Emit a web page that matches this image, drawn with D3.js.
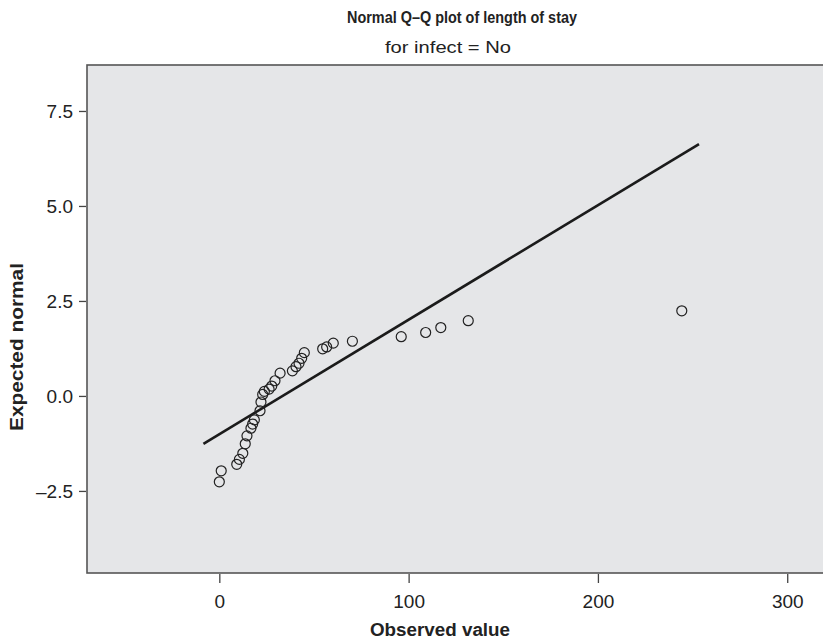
<!DOCTYPE html>
<html>
<head>
<meta charset="utf-8">
<script src="https://cdn.jsdelivr.net/npm/d3@7"></script>
<style>
	body { margin: 0; background: #fff; }
	text { font-family: "Liberation Sans", Arial, sans-serif; fill: #222; }
</style>
</head>
<body>
<div id="chart"></div>
<script>
// Observed length of stay and expected normal score for each case
const observed = [0, 1, 9.2, 10.6, 12.4, 13.7, 14.6, 16.7, 17.6, 18.5, 21.5, 22, 22.9, 23.8, 26.3, 27.7,
	29.4, 32.1, 38.6, 40.5, 42.1, 43.5, 44.9, 54.6, 56.7, 60.2, 70.3, 96.1, 109, 117, 131.5, 244.3]
const expected = [-2.26, -1.97, -1.80, -1.67, -1.51, -1.26, -1.05, -0.85, -0.74, -0.63, -0.39, -0.16, 0.04, 0.12, 0.18, 0.26,
	0.40, 0.60, 0.66, 0.77, 0.86, 0.99, 1.14, 1.24, 1.29, 1.39, 1.44, 1.56, 1.67, 1.80, 1.98, 2.24]

// Reference line end points
const lineX = [-8.4, 253.4]
const lineY = [-1.26, 6.63]

const xTicks = [0, 100, 200, 300]
const yTicks = [-2.5, 0, 2.5, 5, 7.5]
const yTickLabels = ['\u20132.5', '0.0', '2.5', '5.0', '7.5']

function draw() {
	let dimensions = {
		width: 823,
		height: 643,
		margin: { top: 65, bottom: 70, left: 87, right: 0 }
	}
	dimensions.ctrWidth = dimensions.width - dimensions.margin.left - dimensions.margin.right
	dimensions.ctrHeight = dimensions.height - dimensions.margin.top - dimensions.margin.bottom

	const svg = d3.select('#chart')
		.append('svg')
		.attr('width', dimensions.width)
		.attr('height', dimensions.height)

	// Titles
	svg.append('text')
		.attr('x', 462).attr('y', 23)
		.attr('text-anchor', 'middle')
		.attr('font-size', 17).attr('font-weight', 'bold')
		.attr('textLength', 230).attr('lengthAdjust', 'spacingAndGlyphs')
		.text('Normal Q\u2013Q plot of length of stay')

	svg.append('text')
		.attr('x', 448).attr('y', 53)
		.attr('text-anchor', 'middle')
		.attr('font-size', 17)
		.attr('textLength', 126).attr('lengthAdjust', 'spacingAndGlyphs')
		.text('for infect = No')

	const ctr = svg.append('g')
		.attr('transform', `translate(${dimensions.margin.left}, ${dimensions.margin.top})`)

	// Scales
	const xScale = d3.scaleLinear()
		.domain([-69.9, 318.9])
		.range([0, dimensions.ctrWidth])

	const yScale = d3.scaleLinear()
		.domain([-4.66, 8.71])
		.range([dimensions.ctrHeight, 0])

	// Plot area
	ctr.append('rect')
		.attr('x', 0).attr('y', 0)
		.attr('width', dimensions.ctrWidth + 10)
		.attr('height', dimensions.ctrHeight)
		.attr('fill', '#e5e6e8')
		.attr('stroke', '#555')
		.attr('stroke-width', 1.6)

	// Axes
	const xAxis = d3.axisBottom(xScale)
		.tickValues(xTicks)
		.tickSize(9)
		.tickPadding(12)
	const xAxisGroup = ctr.append('g')
		.attr('transform', `translate(0, ${dimensions.ctrHeight + 1})`)
		.call(xAxis)
	xAxisGroup.select('.domain').remove()

	const yAxis = d3.axisLeft(yScale)
		.tickValues(yTicks)
		.tickFormat((d, i) => yTickLabels[i])
		.tickSize(7)
		.tickPadding(6)
	const yAxisGroup = ctr.append('g')
		.attr('transform', 'translate(-1, 0)')
		.call(yAxis)
	yAxisGroup.select('.domain').remove()

	ctr.selectAll('.tick line').attr('stroke', '#444').attr('stroke-width', 1.3)
	ctr.selectAll('.tick text')
		.attr('font-size', 19)
		.attr('font-family', '"Liberation Sans", Arial, sans-serif')
		.attr('fill', '#222')

	// Axis titles
	svg.append('text')
		.attr('x', 440).attr('y', 636)
		.attr('text-anchor', 'middle')
		.attr('font-size', 18).attr('font-weight', 'bold')
		.attr('textLength', 140).attr('lengthAdjust', 'spacingAndGlyphs')
		.text('Observed value')

	svg.append('text')
		.attr('transform', 'translate(23, 347) rotate(-90)')
		.attr('text-anchor', 'middle')
		.attr('font-size', 18).attr('font-weight', 'bold')
		.attr('textLength', 168).attr('lengthAdjust', 'spacingAndGlyphs')
		.text('Expected normal')

	// Reference line
	ctr.append('line')
		.attr('x1', xScale(lineX[0])).attr('y1', yScale(lineY[0]))
		.attr('x2', xScale(lineX[1])).attr('y2', yScale(lineY[1]))
		.attr('stroke', '#1b1b1b')
		.attr('stroke-width', 2.6)

	// Points
	ctr.selectAll('circle')
		.data(observed)
		.join('circle')
		.attr('cx', d => xScale(d))
		.attr('cy', (d, i) => yScale(expected[i]))
		.attr('r', 5)
		.attr('fill', 'none')
		.attr('stroke', '#222')
		.attr('stroke-width', 1.2)
}

draw()
</script>
</body>
</html>
